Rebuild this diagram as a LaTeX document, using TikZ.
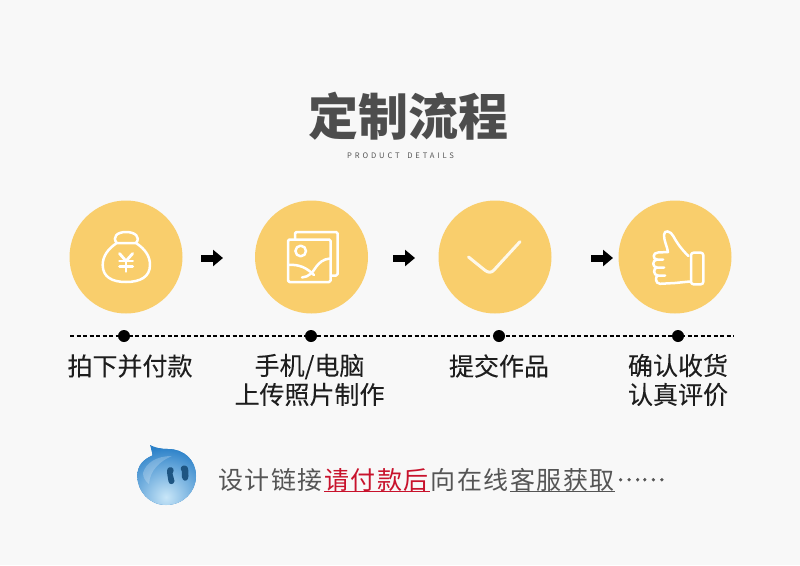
\documentclass[tikz,border=0pt]{standalone}
\usepackage{fontspec}
\usetikzlibrary{arrows.meta}
\newfontfamily\cjk{Noto Sans CJK SC}
\newfontfamily\cjklabel[FakeBold=0.15]{Noto Sans CJK SC}
\newfontfamily\cjkspaced[LetterSpace=6]{Noto Sans CJK SC}
\newfontfamily\cjkdots[FakeBold=1.2]{Noto Sans CJK SC}
\newfontfamily\latinspaced[LetterSpace=38]{Noto Sans CJK SC}
\definecolor{bgc}{HTML}{F8F8F8}
\definecolor{gold}{HTML}{F9CE6C}
\definecolor{titlec}{HTML}{4D4D4D}
\definecolor{labelc}{HTML}{1E1E1E}
\definecolor{greyc}{HTML}{555555}
\definecolor{redc}{HTML}{C8122C}
\definecolor{cream}{HTML}{FFFFFF}
\definecolor{dropedge}{HTML}{2A80C8}
\definecolor{dropin}{HTML}{C8E6F8}
\definecolor{eyec}{HTML}{1E5582}
\tikzset{
  badge/.style={circle,fill=gold,draw=none,minimum size=113pt,inner sep=0pt},
  icon/.style={draw=cream,line width=2.5pt,line cap=round,line join=round},
  flowarrow/.style={draw=black,line width=7pt,-{Triangle[length=10pt,width=16pt]}},
  dot/.style={circle,fill=black,draw=none,minimum size=12pt,inner sep=0pt},
  lbl/.style={font=\cjklabel\fontsize{25}{29}\selectfont,text=labelc,align=center,inner sep=0pt},
  seg/.style={font=\cjkspaced\fontsize{25}{25}\selectfont,anchor=base west,inner sep=0pt},
}
\begin{document}
\begin{tikzpicture}[x=1pt,y=-1pt]
\useasboundingbox (0,0) rectangle (800,565);
\fill[bgc] (0,0) rectangle (800,565);
% title
\node[font=\cjk\bfseries\fontsize{50}{50}\selectfont,text=titlec,inner sep=0pt] (title) at (408.5,116) {定制流程};
\node[font=\latinspaced\fontsize{7.6}{8}\selectfont,text=greyc,inner sep=0pt] (sub) at (400.5,155.5) {PRODUCT\hspace{3pt} DETAILS};
% badges
\node[badge] (b1) at (126,257) {};
\node[badge] (b2) at (311.5,257) {};
\node[badge] (b3) at (495,257) {};
\node[badge] (b4) at (675,257) {};
% arrows
\coordinate (a1s) at (201,258); \coordinate (a1e) at (223,258);
\coordinate (a2s) at (393,258); \coordinate (a2e) at (415,258);
\coordinate (a3s) at (591,258); \coordinate (a3e) at (613,258);
\draw[flowarrow] (a1s) -- (a1e);
\draw[flowarrow] (a2s) -- (a2e);
\draw[flowarrow] (a3s) -- (a3e);
% money bag
\draw[icon] (116.7,243) .. controls (108,249) and (102.7,256) .. (102.7,265)
  .. controls (102.7,277) and (112,282) .. (126,282)
  .. controls (140,282) and (150,277) .. (150,265)
  .. controls (150,256) and (145,249) .. (136,243) -- cycle;
\draw[icon] (116.7,243) .. controls (112,237) and (117,232) .. (126,232)
  .. controls (135,232) and (141,237) .. (136,243);
\draw[icon,line width=2.8pt] (119.5,253.5) -- (126,261) -- (132.7,253.5);
\draw[icon,line width=2.8pt] (119.5,261) -- (132.7,261);
\draw[icon,line width=2.8pt] (119.5,266.5) -- (132.7,266.5);
\draw[icon,line width=2.8pt] (126,261) -- (126,271.5);
% picture icon
\draw[icon,rounded corners=1.5pt] (288,239.5) rectangle (330.7,282);
\draw[icon,rounded corners=1.5pt] (295,239) -- (295,232) -- (337.7,232) -- (337.7,275.5) -- (331,275.5);
\draw[icon] (300.7,251) circle (5.3);
\draw[icon] (288.5,265) .. controls (299,264) and (307,268) .. (314,275);
\draw[icon] (330,258.5) .. controls (323,259) and (319,263) .. (316,267)
  .. controls (313,272) and (309,277) .. (302,277.5);
% check
\draw[icon,draw=cream!85!gold,line width=3pt] (468.5,257) -- (485,270.3)
  .. controls (488,272.8) and (491.5,273) .. (494,270) -- (520,241.7);
% thumb
\draw[icon,rounded corners=2.5pt] (691,252.7) rectangle (703.3,284.3);
\draw[icon] (688.5,256) .. controls (682,250) and (677,243) .. (673.5,236.5)
  .. controls (671,231) and (664,229) .. (664,235)
  .. controls (664,241) and (667,246) .. (668,252)
  -- (658,252.5) .. controls (652.5,252.5) and (652.5,259.5) .. (657,259.5) -- (663,259.5);
\draw[icon] (657,259.5) .. controls (652,260) and (652,267.5) .. (657,267.5) -- (664,267.5);
\draw[icon] (657,267.5) .. controls (653,268) and (653,275.5) .. (658,275.5) -- (665,275.5);
\draw[icon] (658,275.5) .. controls (655,276) and (655,283.8) .. (660,283.8) -- (675,283) -- (690,281.5);
% timeline
\coordinate (ls) at (70,336); \coordinate (le) at (734,336);
\draw[black,line width=1.2pt,dash pattern=on 4pt off 2.5pt] (ls) -- (le);
\node[dot] (d1) at (124,336) {};
\node[dot] (d2) at (311,336) {};
\node[dot] (d3) at (499,336) {};
\node[dot] (d4) at (678,336) {};
% labels
\node[lbl] (t1) at (130,366) {拍下并付款};
\node[lbl] (t2) at (309.5,380) {手机/电脑\\上传照片制作};
\node[lbl] (t3) at (499,366) {提交作品};
\node[lbl] (t4) at (678,380) {确认收货\\认真评价};
% droplet
\begin{scope}
\clip (150,445) .. controls (155,447.5) and (160,449) .. (168,449)
  .. controls (184,449) and (196,460) .. (196,476)
  .. controls (196,492) and (183,505) .. (166,505)
  .. controls (149,505) and (137.3,491) .. (137.3,476)
  .. controls (137.3,465) and (144,459) .. (152.5,455.5)
  .. controls (152,451) and (151,448) .. (150,445) -- cycle;
\fill[dropedge] (130,440) rectangle (200,510);
\shade[inner color=dropin,outer color=dropedge] (166,497) circle (50);
\end{scope}
\fill[white,opacity=.22] (143,473) .. controls (146,463) and (156,456) .. (172,456)
  .. controls (160,461) and (150,470) .. (149,484) .. controls (145,481) and (143,477) .. (143,473) -- cycle;
\fill[eyec] (169,467.5) .. controls (173,466) and (175,470) .. (172.5,473.5)
  .. controls (172,476) and (175,478) .. (174.5,481) .. controls (174,485) and (169,485) .. (168.5,481.5)
  .. controls (168,478) and (167,474) .. (167,471) .. controls (167,469) and (168,468) .. (169,467.5) -- cycle;
\fill[eyec] (185,465.5) .. controls (181,465) and (179.5,468.5) .. (182,471.5)
  .. controls (183,474) and (180.5,476) .. (183,479.5) .. controls (185,482) and (188.5,480.5) .. (188.5,476)
  .. controls (188.5,472) and (188.5,468) .. (187,466.5) .. controls (186.5,466) and (186,465.5) .. (185,465.5) -- cycle;
% bottom text
\node[seg,text=greyc] (s1) at (218,489) {设计链接};
\node[seg,text=redc] (s2) at (324,489) {请付款后};
\node[seg,text=greyc] (s3) at (430.5,489) {向在线};
\node[seg,text=greyc] (s4) at (510,489) {客服获取};
\node[seg,font=\cjkdots\fontsize{22.8}{23}\selectfont,text=greyc] (s5) at (616.5,481) {……};
\coordinate (u1a) at (324,491.5); \coordinate (u1b) at (430,491.5);
\coordinate (u2a) at (510,491.5); \coordinate (u2b) at (615,491.5);
\draw[redc,line width=1pt] (u1a) -- (u1b);
\draw[greyc,line width=1pt] (u2a) -- (u2b);
\end{tikzpicture}
\end{document}
